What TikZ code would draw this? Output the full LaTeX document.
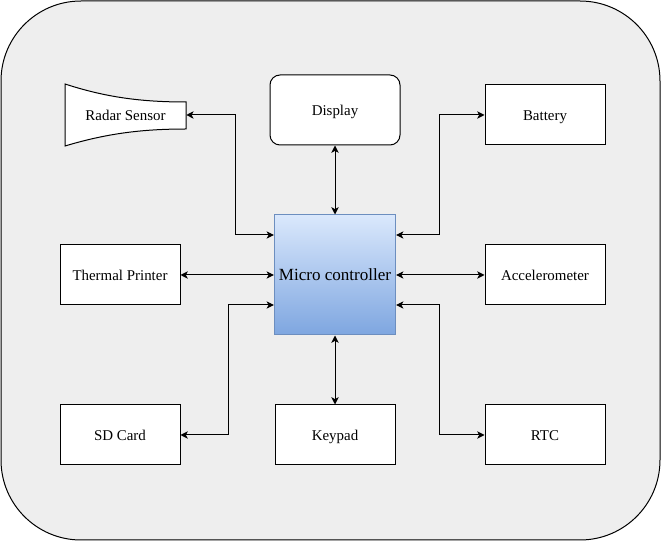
\documentclass[tikz,border=0pt]{standalone}
\usepackage{fontspec}
\setmainfont{Liberation Serif}
\usepackage{tikz}
\usetikzlibrary{positioning,shapes,arrows.meta,calc}
\definecolor{panelgray}{RGB}{238,238,238}
\definecolor{mcutop}{RGB}{218,232,252}
\definecolor{mcubottom}{RGB}{126,166,224}
\definecolor{mcuborder}{RGB}{108,142,191}

\begin{document}
\begin{tikzpicture}[x=0.75pt, y=-0.75pt, >={Stealth[length=5.5pt, width=5.5pt, inset=1.5pt]}, font=\fontsize{11.2}{13}\selectfont]
    \tikzstyle{block} = [rectangle, minimum width=90pt, minimum height=45pt, text centered, text height=10pt, text depth=1pt, draw=black, fill=white, line width=0.75pt]
    \tikzstyle{mcu} = [rectangle, minimum width=90pt, minimum height=90pt, text centered, draw=mcuborder, top color=mcutop, bottom color=mcubottom, line width=0.75pt, font=\fontsize{12.8}{15}\selectfont]
    \tikzstyle{horn} = [rectangle, minimum width=90.75pt, minimum height=46.5pt, text centered, inner sep=0pt]
    \tikzstyle{link} = [<->, line width=0.75pt, black]

    \useasboundingbox (0,0) rectangle (661,541);

    % Outer panel
    \draw [fill=panelgray, line width=0.75pt, rounded corners=60pt] (1,1) rectangle (660,540);

    % Radar sensor outline
    \draw [fill=white, line width=0.75pt] (65,84) .. controls (105,97) and (140,102) .. (186,102) -- (186,129) .. controls (140,129) and (105,134) .. (65,146) -- cycle;

    % Peripherals
    \node [horn] (radar) at (125.5,115) {Radar Sensor};
    \node [block, rounded corners=7.5pt, minimum width=97.5pt, minimum height=52.5pt] (display) at (335,110) {Display};
    \node [block] (battery) at (545,115) {Battery};
    \node [block] (thermal) at (120,275) {Thermal Printer};
    \node [block] (accel) at (545,275) {Accelerometer};
    \node [block] (sdcard) at (120,435) {SD Card};
    \node [block] (keypad) at (335,435) {Keypad};
    \node [block] (rtc) at (545,435) {RTC};

    % Controller
    \node [mcu] (mc) at (335,275) {Micro controller};

    % Arrows
    \draw [link] (radar.east) -- ++(49,0) |- ($(mc.west)+(0,-40)$);
    \draw [link] (display) -- (mc);
    \draw [link] (battery.west) -- ++(-45,0) |- ($(mc.east)+(0,-40)$);
    \draw [link] (thermal) -- (mc);
    \draw [link] (mc) -- (accel);
    \draw [link] (sdcard.east) -- ++(48,0) |- ($(mc.west)+(0,30)$);
    \draw [link] (mc) -- (keypad);
    \draw [link] (rtc.west) -- ++(-45,0) |- ($(mc.east)+(0,30)$);
\end{tikzpicture}
\end{document}
